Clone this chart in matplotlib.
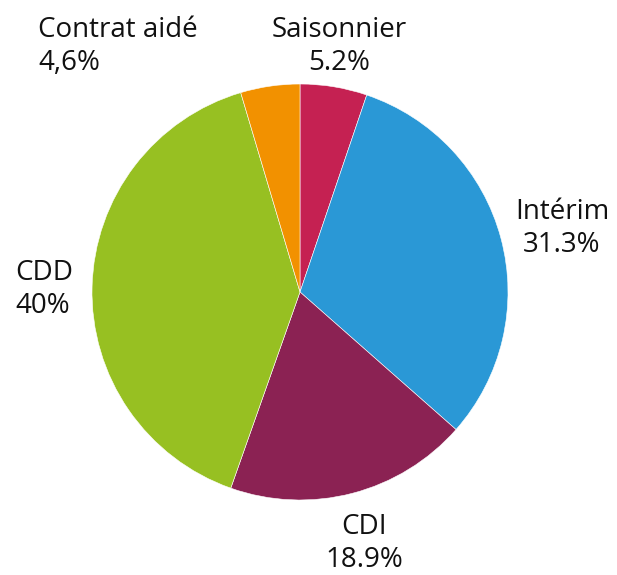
import matplotlib
matplotlib.use("Agg")
import matplotlib.pyplot as plt

categories = ["Saisonnier", "Intérim", "CDI", "CDD", "Contrat aidé"]
values = [5.2, 31.3, 18.9, 40.0, 4.6]
value_labels = ["5.2%", "31.3%", "18.9%", "40%", "4,6%"]
colors = ["#C52152", "#2A98D6", "#8B2253", "#97C022", "#F29100"]

W, H = 617, 575
fig = plt.figure(figsize=(W / 100, H / 100), dpi=100)
ax = fig.add_axes([0, 0, 1, 1])

cx, cy, r = 300, H - 292, 208
ax.pie(values, colors=colors, startangle=90, counterclock=False,
       center=(cx, cy), radius=r, frame=True,
       wedgeprops=dict(edgecolor="white", linewidth=0.4))
ax.set_xlim(0, W)
ax.set_ylim(0, H)
ax.set_aspect("equal")
ax.axis("off")

# label placement (pixel coords: x, baseline of last line, alignment)
placements = {
    "Saisonnier": (339, 70, "center"),
    "Intérim": (562, 252, "center"),
    "CDI": (364, 567, "center"),
    "CDD": (15, 313, "left"),
    "Contrat aidé": (38, 70, "left"),
}
for cat, vl in zip(categories, value_labels):
    x, yb, ha = placements[cat]
    ax.text(x, H - yb, f"{cat}\n{vl}", ha=ha, va="baseline",
            multialignment=ha, fontsize=20, family="Open Sans",
            color="#111111", linespacing=1.25)

fig.savefig("out.png", dpi=100)
